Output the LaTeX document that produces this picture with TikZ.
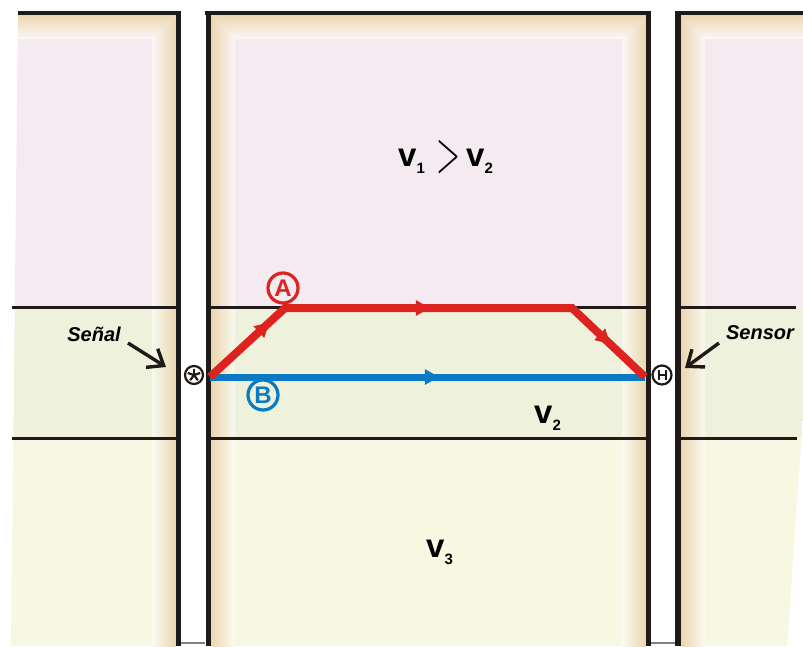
\documentclass[tikz,border=0pt]{standalone}
\usepackage{fontspec}
\setmainfont{Liberation Sans}
\usetikzlibrary{decorations.markings,arrows.meta}
\definecolor{pinkL}{HTML}{F5EAF0}
\definecolor{greenL}{HTML}{EEF2DC}
\definecolor{yelL}{HTML}{F8F7E2}
\definecolor{tanC}{HTML}{EBD6AF}
\definecolor{redP}{HTML}{DD2320}
\definecolor{blueP}{HTML}{0A7AC2}
\definecolor{blk}{HTML}{1E1A17}
\tikzset{
  wall/.style={blk, line width=5.5pt},
  layerline/.style={blk, line width=3pt},
  rayA/.style={redP, line width=8pt, line join=miter},
  rayB/.style={blueP, line width=7pt},
  midarrow/.style 2 args={decoration={markings, mark=at position #1 with {\fill[#2] (7pt,0) -- (-7pt,8pt) -- (-7pt,-8pt) -- cycle;}}, postaction={decorate}},
  label/.style={font=\fontsize{20}{24}\selectfont\bfseries\itshape, inner sep=0pt},
  pointer/.style={blk, line width=3.4pt, -{Straight Barb[length=14pt,width=22pt,line width=3.4pt]}},
  vel/.style={inner sep=0pt, font=\bfseries},
  circlab/.style={circle, line width=3.2pt, minimum size=30pt, inner sep=0pt, font=\fontsize{24}{26}\selectfont\bfseries},
}
\newcommand{\vsub}[1]{{\fontsize{33}{35}\selectfont v}\raisebox{-7pt}{\fontsize{15}{17}\selectfont #1}}
\begin{document}
\begin{tikzpicture}[x=1pt,y=-1pt]
\path[use as bounding box, fill=white] (0,0) rectangle (803,646);
% ---------- layers in the three blocks ----------
\foreach \blk in {{(18,13) -- (178,13) -- (178,646) -- (11,646) -- cycle},
                  {(208,13) -- (648,13) -- (648,646) -- (208,646) -- cycle},
                  {(678,13) -- (803,13) -- (803,417) -- (787,646) -- (678,646) -- cycle}}{
  \begin{scope}
    \clip \blk;
    \fill[pinkL] (0,0) rectangle (803,307);
    \fill[greenL] (0,307) rectangle (803,438);
    \fill[yelL] (0,438) rectangle (803,646);
  \end{scope}
}
% ---------- shaded strips beside the boreholes ----------
\foreach \xa/\xb/\dir in {152/176/r, 211/235/l, 622/646/r, 681/705/l}{
  \foreach \ya/\yb/\lc in {15/307/pinkL, 307/438/greenL, 438/646/yelL}{
    \if r\dir
      \shade[left color=\lc!45!white, right color=tanC] (\xa,\ya) rectangle (\xb,\yb);
    \else
      \shade[left color=tanC, right color=\lc!45!white] (\xa,\ya) rectangle (\xb,\yb);
    \fi
  }
}
% ---------- top bands (mitred) ----------
\shade[top color=tanC, bottom color=pinkL!40!white] (18,15) -- (176,15) -- (152,39) -- (18,39) -- cycle;
\shade[top color=tanC, bottom color=pinkL!40!white] (211,15) -- (646,15) -- (622,39) -- (235,39) -- cycle;
\shade[top color=tanC, bottom color=pinkL!40!white] (681,15) -- (803,15) -- (803,39) -- (705,39) -- cycle;
% ---------- layer boundaries ----------
\draw[layerline] (12,307) -- (176,307) (211,307) -- (646,307) (681,307) -- (796,307);
\draw[layerline] (12,438) -- (176,438) (211,438) -- (646,438) (681,438) -- (797,438);
% ---------- top edges and borehole walls ----------
\draw[blk, line width=4pt] (18,13) -- (181,13) (205,13) -- (651,13) (675,13) -- (803,13);
\draw[wall] (178.5,11) -- (178.5,646) (208.5,11) -- (208.5,646);
\draw[wall] (648.5,11) -- (648.5,646) (678,11) -- (678,646);
\draw[gray, line width=1.5pt] (181,643) -- (205,643) (651,643) -- (675,643);
% ---------- ray paths ----------
\coordinate (s) at (210,377);
\coordinate (p1) at (285,308);
\coordinate (p2) at (572,308);
\coordinate (r) at (645,377);
\draw[rayB, midarrow={0.51}{blueP}] (s) -- (r);
\draw[rayA] (s) -- (p1) -- (p2) -- (r);
\path[midarrow={0.72}{redP}] (s) -- (p1);
\path[midarrow={0.48}{redP}] (p1) -- (p2);
\path[midarrow={0.45}{redP}] (p2) -- (r);
% ---------- source and receiver ----------
\node[circle, draw=blk, line width=2.2pt, minimum size=18pt, inner sep=0pt, fill=white] (src) at (194,375) {};
\foreach \a in {90,162,234,306,18}{\draw[blk, line width=2.2pt] (src.center) -- ++(\a:6.5pt);}
\node[circle, draw=blk, line width=2.2pt, minimum size=19pt, inner sep=0pt, fill=white] (rec) at (662,375) {};
\draw[blk, line width=2pt] ([xshift=-3.5pt,yshift=-5pt]rec.center) -- ++(0,10pt)
  ([xshift=3.5pt,yshift=-5pt]rec.center) -- ++(0,10pt)
  ([xshift=-3.5pt]rec.center) -- ([xshift=3.5pt]rec.center);
% ---------- circled labels ----------
\node[circlab, draw=redP, text=redP] (A) at (283,288) {A};
\node[circlab, draw=blueP, text=blueP] (B) at (263,395) {B};
% ---------- Señal / Sensor ----------
\node[label] (senal) at (94,334) {Señal};
\coordinate (senalTip) at (166,367);
\draw[pointer] (128,343) -- (senalTip);
\node[label] (sensor) at (760,333) {Sensor};
\coordinate (sensorTip) at (685,368);
\draw[pointer] (719,343) -- (sensorTip);
% ---------- velocities ----------
\node[vel, anchor=base west] (v1) at (398,166) {\vsub{1}};
\node[inner sep=0pt] (gt) at (448,157) {\resizebox{24pt}{31pt}{$\mathbf{>}$}};
\node[vel, anchor=base west] (v2a) at (466,166) {\vsub{2}};
\node[vel, anchor=base west] (v2b) at (534,423) {\vsub{2}};
\node[vel, anchor=base west] (v3) at (426,557) {\vsub{3}};
\end{tikzpicture}
\end{document}
